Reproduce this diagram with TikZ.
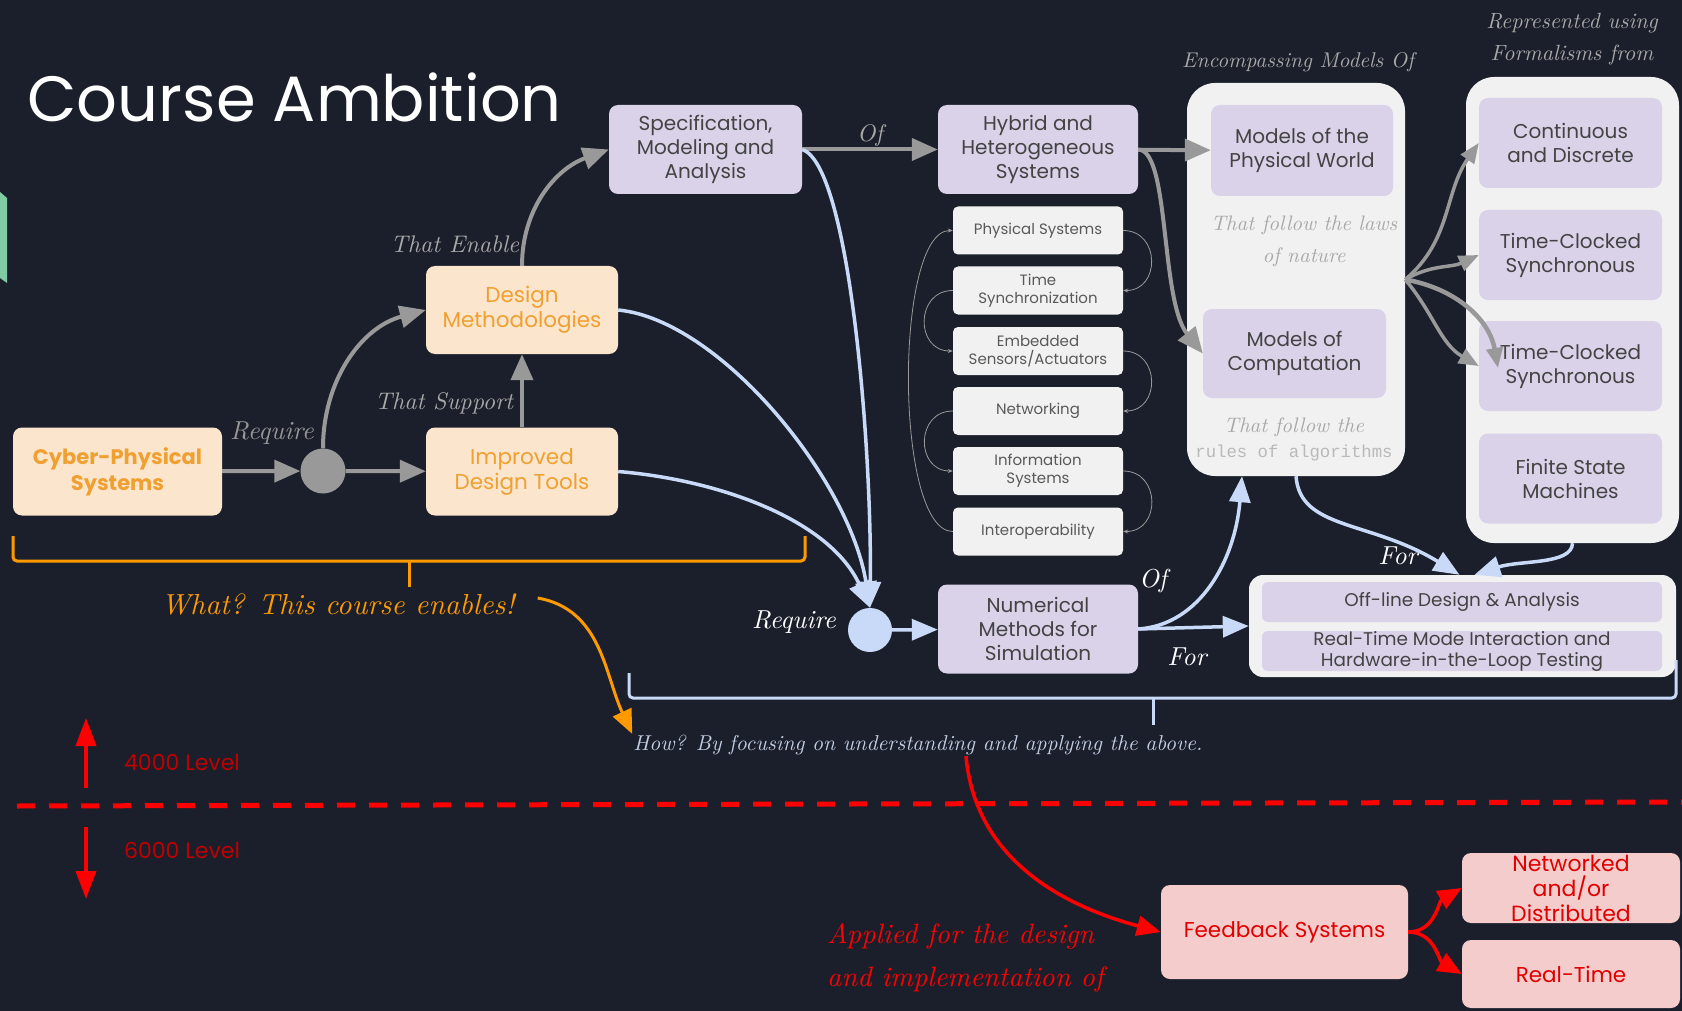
\documentclass[tikz,border=0pt]{standalone}
\usepackage{fontspec}
\setmainfont{Poppins}
\newfontfamily\handfont{lmroman10-italic.otf}
\newfontfamily\codefont{Liberation Mono}
\usetikzlibrary{arrows.meta,positioning}

\definecolor{bgdark}{HTML}{1B1F2B}
\definecolor{peachfill}{HTML}{FCE5CD}
\definecolor{peachtext}{HTML}{EFA030}
\definecolor{lavfill}{HTML}{D9D2E9}
\definecolor{boxtext}{HTML}{434343}
\definecolor{greyfill}{HTML}{F1F1F1}
\definecolor{smalltext}{HTML}{595959}
\definecolor{pinkfill}{HTML}{F4CCCC}
\definecolor{redtext}{HTML}{E00000}
\definecolor{arrowgrey}{HTML}{999999}
\definecolor{arrowblue}{HTML}{C9DAF8}
\definecolor{labelgrey}{HTML}{A8A8A8}
\definecolor{orangeline}{HTML}{FF9900}
\definecolor{howblue}{HTML}{C2CCE2}
\definecolor{levelred}{HTML}{C00000}
\definecolor{mint}{HTML}{7FCBA4}

\begin{document}
\begin{tikzpicture}[
    x=1pt, y=-1pt,
    peachbox/.style={%
      fill=peachfill,
      rounded corners=9pt,
      align=center,
      text=peachtext,
      font=\fontsize{21.5}{25}\selectfont,
      minimum width=192pt,
      minimum height=88pt,
      inner sep=2pt,
    },
    lavbox/.style={%
      fill=lavfill,
      rounded corners=9pt,
      align=center,
      text=boxtext,
      font=\fontsize{20}{24}\selectfont,
      minimum width=193pt,
      minimum height=89pt,
      inner sep=2pt,
    },
    smallbox/.style={%
      fill=greyfill,
      rounded corners=5pt,
      align=center,
      text=smalltext,
      font=\fontsize{15}{18}\selectfont,
      minimum width=170pt,
      minimum height=48pt,
      inner sep=1pt,
    },
    contbox/.style={%
      fill=greyfill,
      rounded corners=28pt,
    },
    pinkbox/.style={%
      fill=pinkfill,
      rounded corners=9pt,
      align=center,
      text=redtext,
      font=\fontsize{21.5}{25}\selectfont,
      inner sep=0pt,
    },
    handtext/.style={%
      font=\handfont\fontsize{24}{32}\selectfont,
      inner sep=1pt,
    },
    whitehand/.style={%
      text=white,
      font=\handfont\fontsize{26}{30}\selectfont,
      inner sep=1pt,
    },
    garrow/.style={%
      draw=arrowgrey,
      line width=4pt,
      -{Triangle[length=26pt,width=22pt]},
    },
    farrow/.style={%
      draw=arrowgrey,
      line width=3.5pt,
      -{Triangle[length=20pt,width=16pt]},
    },
    barrow/.style={%
      draw=arrowblue,
      line width=3.5pt,
      -{Triangle[length=26pt,width=21pt]},
    },
    thinarc/.style={%
      draw=arrowgrey,
      line width=0.8pt,
      -{Stealth[length=5pt,width=4pt]},
    },
    rarrow/.style={%
      draw=red,
      line width=3.5pt,
      -{Triangle[length=24pt,width=20pt]},
    },
  ]

    \fill [bgdark] (0,0) rectangle (1682,1011);
    \useasboundingbox (0,0) rectangle (1682,1011);
    \fill [mint] (0,192) -- (7,198) -- (7,283) -- (0,278) -- cycle;

    \node [anchor=west, text=white, font=\fontsize{64}{70}\selectfont] (title) at (24,97) {Course Ambition};

    % left part
    \node [peachbox, minimum width=209pt, font=\bfseries\fontsize{21}{26}\selectfont] (cps) at (117.5,471.5) {Cyber-Physical\\Systems};
    \node [circle, fill=arrowgrey, minimum size=45pt, inner sep=0pt] (gdot) at (323,471) {};
    \node [peachbox] (idt) at (522,471.5) {Improved\\Design Tools};
    \node [peachbox] (dm) at (522,310) {Design\\Methodologies};
    \node [lavbox] (spec) at (705.5,149.5) {Specification,\\Modeling and\\Analysis};

    % middle column
    \node [lavbox, minimum width=200pt] (hyb) at (1038,149.5) {Hybrid and\\Heterogeneous\\Systems};
    \node [smallbox] (phys) at (1038,230.5) {Physical Systems};
    \path (phys) ++(0,60) node [smallbox] (tsync) {Time\\Synchronization};
    \path (tsync) ++(0,60.5) node [smallbox] (emb) {Embedded\\Sensors/Actuators};
    \path (emb) ++(0,60) node [smallbox] (netw) {Networking};
    \path (netw) ++(0,60) node [smallbox] (info) {Information\\Systems};
    \path (info) ++(0,60.5) node [smallbox] (inter) {Interoperability};
    \node [circle, fill=arrowblue, minimum size=44pt, inner sep=0pt] (bdot) at (870,630) {};
    \node [lavbox, minimum width=200pt] (num) at (1038,629) {Numerical\\Methods for\\Simulation};

    % models of
    \node [contbox, minimum width=218pt, minimum height=393pt] (enc) at (1296,279.5) {};
    \node [lavbox, minimum width=182pt, minimum height=91pt] (mpw) at (1302,150.5) {Models of the\\Physical World};
    \node [lavbox, minimum width=183pt] (moc) at (1294.5,353.5) {Models of\\Computation};
    \node [handtext, text=labelgrey, align=center, font=\handfont\fontsize{21}{32}\selectfont] (laws) at (1304,241) {That follow the laws\\of nature};
    \node [handtext, text=labelgrey, font=\handfont\fontsize{21}{26}\selectfont] (algo) at (1294,427) {That follow the};
    \node [text=labelgrey!80, font=\codefont\fontsize{17.3}{20}\selectfont, inner sep=0pt] (algo2) at (1294,453) {rules of algorithms};

    % formalisms
    \node [contbox, minimum width=213pt, minimum height=466pt] (form) at (1572.5,310) {};
    \node [lavbox, minimum width=183pt, minimum height=90pt] (cont) at (1570.5,143) {Continuous\\and Discrete};
    \path (cont) ++(0,112) node [lavbox, minimum width=183pt, minimum height=90pt] (tcs1) {Time-Clocked\\Synchronous};
    \path (tcs1) ++(0,111) node [lavbox, minimum width=183pt, minimum height=90pt] (tcs2) {Time-Clocked\\Synchronous};
    \path (tcs2) ++(0,112.5) node [lavbox, minimum width=183pt, minimum height=90pt] (fsm) {Finite State\\Machines};
    \coordinate (tcs2tip) at (1498,368);

    % off-line / real-time
    \node [contbox, rounded corners=14pt, minimum width=427pt, minimum height=102pt] (off) at (1462.5,626) {};
    \node [lavbox, rounded corners=6pt, minimum width=400pt, minimum height=40pt, font=\fontsize{18.4}{21}\selectfont, inner sep=0pt] (offline) at (1462,602) {Off-line Design \& Analysis};
    \node [lavbox, rounded corners=6pt, minimum width=400pt, minimum height=40pt, font=\fontsize{18.4}{21}\selectfont, inner sep=0pt] (rtmode) at (1462,651) {Real-Time Mode Interaction and\\Hardware-in-the-Loop Testing};

    % feedback
    \node [pinkbox, minimum width=247pt, minimum height=94pt] (fb) at (1284.5,932) {Feedback Systems};
    \node [pinkbox, minimum width=218pt, minimum height=70pt, font=\fontsize{22}{25}\selectfont] (nd) at (1571,888) {Networked\\and/or\\Distributed};
    \node [pinkbox, minimum width=218pt, minimum height=68pt] (rt) at (1571,974) {Real-Time};

    % labels
    \node [handtext, text=labelgrey!120, font=\handfont\fontsize{26}{30}\selectfont] (req1) at (272,433) {Require};
    \node [handtext, text=labelgrey] (enable) at (455,244) {That Enable};
    \node [handtext, text=labelgrey] (support) at (444,403) {That Support};
    \node [handtext, text=labelgrey, font=\handfont\fontsize{21.3}{30}\selectfont] (encl) at (1298,62) {Encompassing Models Of};
    \node [handtext, text=labelgrey, align=center, font=\handfont\fontsize{22}{32}\selectfont] (repl) at (1572,39) {Represented using\\Formalisms from};
    \node [whitehand] (req2) at (794,622) {Require};
    \node [whitehand] (ofnum) at (1153,581) {Of};
    \node [whitehand] (fornum) at (1187,657) {For};
    \node [whitehand] (forenc) at (1398,556) {For};
    \node [handtext, text=orangeline, font=\handfont\fontsize{29}{34}\selectfont] (what) at (338,604) {What? This course enables!};
    \node [handtext, text=howblue, font=\handfont\fontsize{21.5}{26}\selectfont] (how) at (918,745) {How? By focusing on understanding and applying the above.};
    \node [handtext, text=red, align=left, anchor=north west, font=\handfont\fontsize{28}{43}\selectfont] (applied) at (826,922) {Applied for the design\\and implementation of};
    \node [text=levelred, font=\fontsize{22}{26}\selectfont] (l4) at (182,762) {4000 Level};
    \node [text=levelred, font=\fontsize{22}{26}\selectfont] (l6) at (182,850) {6000 Level};

    % grey arrows
    \draw [garrow] (cps) -- (gdot);
    \draw [garrow] (gdot) -- (idt);
    \draw [garrow] (idt) -- (dm);
    \draw [garrow] (gdot.north) to[out=90,in=195] (dm.west);
    \draw [garrow] (dm.north) to[out=90,in=200] (spec.west);
    \draw [garrow] (spec) -- (hyb) node [midway, above, handtext, text=labelgrey] {Of};
    \draw [garrow] (hyb) -- (mpw);
    \draw [garrow] (hyb.east) .. controls (1170,150) and (1160,300) .. (moc.west);
    \draw [farrow] (enc.east) to[out=40,in=235] (cont.west);
    \draw [farrow] (enc.east) to[out=30,in=205] (tcs1.west);
    \draw [farrow] (enc.east) to[out=-50,in=150] (tcs2.west);
    \draw [farrow, line width=4.5pt] (enc.east) to[out=-10,in=100] (tcs2tip);

    % thin arcs
    \draw [thinarc] (phys.east) to[out=0,in=0,looseness=1.6] (tsync.east);
    \draw [thinarc] (emb.east) to[out=0,in=0,looseness=1.6] (netw.east);
    \draw [thinarc] (info.east) to[out=0,in=0,looseness=1.6] (inter.east);
    \draw [thinarc] (tsync.west) to[out=180,in=180,looseness=1.6] (emb.west);
    \draw [thinarc] (netw.west) to[out=180,in=180,looseness=1.6] (info.west);
    \draw [thinarc] (inter.west) to[out=180,in=180,looseness=0.5] (phys.west);

    % blue arrows
    \draw [barrow] (spec.east) .. controls (850,165) and (872,450) .. (bdot.north);
    \draw [barrow] (dm.east) .. controls (720,320) and (850,480) .. (bdot.north);
    \draw [barrow] (idt.east) .. controls (720,480) and (830,520) .. (bdot.north);
    \draw [barrow] (bdot) -- (num);
    \draw [barrow] (num.east) .. controls (1200,625) and (1235,560) .. ([xshift=-54pt]enc.south);
    \draw [barrow] (num.east) -- (off.west);
    \draw [barrow] (enc.south) .. controls (1300,530) and (1370,520) .. ([xshift=-3pt]off.north);
    \draw [barrow] (form.south) .. controls (1572,565) and (1520,560) .. ([xshift=12pt]off.north);

    % brackets
    \draw [orangeline, line width=3pt, rounded corners=4pt] (13,536) -- (13,561) -- (805,561) -- (805,536);
    \draw [orangeline, line width=3pt] (409,561) -- (409,587);
    \draw [arrowblue, line width=3pt, rounded corners=4pt] (629,673) -- (629,698) -- (1676,698) -- (1676,660);
    \draw [arrowblue, line width=3pt] (1153,698) -- (1153,725);

    % what / how
    \draw [draw=orangeline, line width=3pt, -{Triangle[length=24pt,width=20pt]}] ([xshift=22pt,yshift=6pt]what.east) to[out=-10,in=115] (how.north west);
    \draw [rarrow] ([xshift=48pt]how.south) to[out=-85,in=165] (fb.west);
    \draw [rarrow] (fb.east) to[out=0,in=210] (nd.west);
    \draw [rarrow] (fb.east) to[out=0,in=150] (rt.west);

    % levels
    \draw [red, line width=5pt, dash pattern=on 18pt off 14pt] (17,806) -- (1682,802);
    \coordinate (upa) at (86,788);
    \coordinate (upb) at (86,718);
    \coordinate (dna) at (86,827);
    \coordinate (dnb) at (86,899);
    \draw [red, line width=4pt, -{Triangle[length=28pt,width=20pt]}] (upa) -- (upb);
    \draw [red, line width=4pt, -{Triangle[length=28pt,width=20pt]}] (dna) -- (dnb);
\end{tikzpicture}
\end{document}
